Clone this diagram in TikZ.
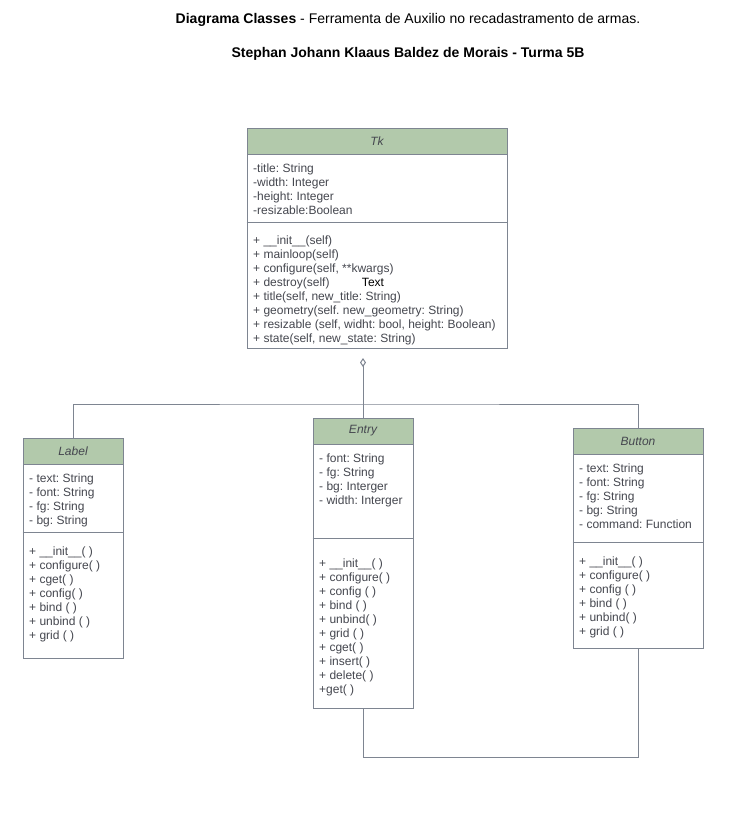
\documentclass[tikz,border=0pt]{standalone}
\usepackage{fontspec}
\setmainfont{Liberation Sans}
\usetikzlibrary{arrows.meta}
\frenchspacing
\definecolor{umlfill}{HTML}{B2C9AB}
\definecolor{umlline}{HTML}{7E8591}
\definecolor{umltext}{HTML}{45474F}
\tikzset{
  cls/.style={draw=umlline, line width=1pt, fill=white, rectangle, inner sep=0pt},
  hdr/.style={draw=umlline, line width=1pt, fill=umlfill, rectangle, inner sep=0pt,
              text=umltext, font=\fontsize{12}{14}\selectfont\itshape, anchor=north},
  members/.style={anchor=north west, inner sep=0pt, align=left, text=umltext,
              font=\fontsize{12}{14}\selectfont\frenchspacing},
  umlconn/.style={draw=umlline, line width=1pt},
  titletext/.style={inner sep=0pt, text=black, font=\fontsize{14}{16}\selectfont},
}
\begin{document}
\begin{tikzpicture}[x=1pt, y=-1pt]
\useasboundingbox[fill=white] (0,0) rectangle (731,820);

% titles
\node[titletext] (title1) at (408,20) {\textbf{Diagrama Classes} - Ferramenta de Auxilio no recadastramento de armas.};
\node[titletext, font=\fontsize{14}{16}\selectfont\bfseries] (title2) at (408,54) {Stephan Johann Klaaus Baldez de Morais - Turma 5B};

% Tk
\node[cls, minimum width=260, minimum height=220] (tk) at (377,238) {};
\node[hdr, minimum width=260, minimum height=26] (tkh) at (tk.north) {Tk};
\draw[umlconn] (tk.west |- 0,222) -- (tk.east |- 0,222);
\node[members] (tka) at (253,162.4) {\strut-title: String\\-width: Integer\\-height: Integer\\-resizable:Boolean};
\node[members] (tkm) at (253,234.7) {\strut+ \_\_init\_\_(self)\\+ mainloop(self)\\+ configure(self, **kwargs)\\+ destroy(self)\\+ title(self, new\_title: String)\\+ geometry(self. new\_geometry: String)\\+ resizable (self, widht: bool, height: Boolean)\\+ state(self, new\_state: String)};
\node[inner sep=0pt, text=black, font=\fontsize{12}{14}\selectfont] (txt) at (373,282) {Text};

% Label
\node[cls, minimum width=100, minimum height=220] (label) at (73,548) {};
\node[hdr, minimum width=100, minimum height=26] (labelh) at (label.north) {Label};
\draw[umlconn] (label.west |- 0,532) -- (label.east |- 0,532);
\node[members] (labela) at (29,472.4) {\strut- text: String\\- font: String\\- fg: String\\- bg: String};
\node[members] (labelm) at (29,545.7) {\strut+ \_\_init\_\_( )\\+ configure( )\\+ cget( )\\+ config( )\\+ bind ( )\\+ unbind ( )\\+ grid ( )};

% Entry
\node[cls, minimum width=100, minimum height=290] (entry) at (363,563) {};
\node[hdr, minimum width=100, minimum height=26] (entryh) at (entry.north) {Entry};
\draw[umlconn] (entry.west |- 0,538) -- (entry.east |- 0,538);
\node[members] (entrya) at (319,452.7) {\strut- font: String\\- fg: String\\- bg: Interger\\- width: Interger};
\node[members] (entrym) at (319,557.2) {\strut+ \_\_init\_\_( )\\+ configure( )\\+ config ( )\\+ bind ( )\\+ unbind( )\\+ grid ( )\\+ cget( )\\+ insert( )\\+ delete( )\\+get( )};

% Button
\node[cls, minimum width=130, minimum height=220] (button) at (638,538) {};
\node[hdr, minimum width=130, minimum height=26] (buttonh) at (button.north) {Button};
\draw[umlconn] (button.west |- 0,542) -- (button.east |- 0,542);
\node[members] (buttona) at (579,462.4) {\strut- text: String\\- font: String\\- fg: String\\- bg: String\\- command: Function};
\node[members] (buttonm) at (579,555.4) {\strut+ \_\_init\_\_( )\\+ configure( )\\+ config ( )\\+ bind ( )\\+ unbind( )\\+ grid ( )};

% connectors
\coordinate (agg) at (363,358);
\coordinate (jn) at (363,404);
\coordinate (bj) at (500,757);
\draw[umlconn, -{Diamond[open, fill=white, width=6pt, length=9pt]}] (entryh.north) -- (agg);
\draw[umlconn] (labelh.north) |- (jn) -| (buttonh.north);
\draw[umlconn] (entry.south) |- (bj) -| (button.south);
\end{tikzpicture}
\end{document}
